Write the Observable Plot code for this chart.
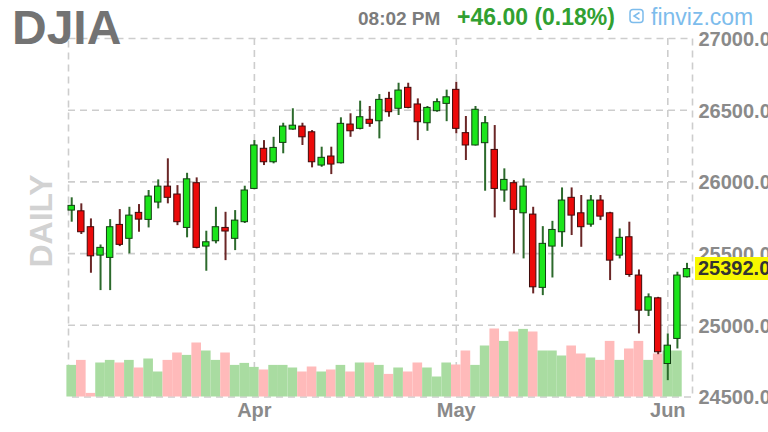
<!DOCTYPE html>
<html><head><meta charset="utf-8">
<script src="https://cdn.jsdelivr.net/npm/d3@7"></script>
<script src="https://cdn.jsdelivr.net/npm/@observablehq/plot@0.6"></script>
<style>
html,body{margin:0;padding:0;background:#fff;overflow:hidden}
#wrap{position:relative;width:768px;height:432px;font-family:"Liberation Sans",Arial,sans-serif}
#wrap > svg{position:absolute;left:0;top:0}
#last{position:absolute;left:695px;width:73px;height:23px;background:#f8f800;color:#333;font-weight:bold;font-size:20px;line-height:23px;padding-left:3px;box-sizing:border-box;white-space:nowrap;overflow:hidden}
</style></head><body><div id="wrap"></div>
<script>
// ---- data (DJIA daily) ----
const opens  = [25800,25795,25684,25486,25470,25700,25603,25784,25735,25856,25967,25912,25679,25991,25549,25586,25679,25603,25719,25951,26231,26137,26272,26365,26386,26346,26114,26177,26130,26400,26370,26433,26423,26579,26510,26656,26540,26409,26493,26544,26642,26340,26254,26270,26223,25940,25991,25781,25772,25261,25549,25649,25889,25781,25702,25870,25781,25486,25614,25347,25102,25188,24730,24905,25335];
const highs  = [25889,25847,25742,25560,25737,25807,25823,25842,25940,26014,26161,25974,26060,26028,25656,25823,25788,25800,25970,26288,26288,26311,26409,26510,26409,26358,26242,26242,26447,26475,26563,26526,26609,26625,26688,26688,26579,26526,26579,26640,26695,26456,26526,26456,26393,26091,26009,26021,25823,25688,25725,25958,25958,25905,25905,25905,25788,25672,25719,25386,25219,25195,24940,25370,25432];
const lows   = [25719,25633,25363,25242,25242,25549,25498,25649,25679,25812,25847,25695,25610,25533,25377,25568,25451,25521,25710,25945,26114,26126,26196,26360,26254,26098,26102,26051,26125,26311,26363,26381,26300,26451,26463,26510,26288,26353,26486,26420,26335,26149,26250,25935,25749,25858,25498,25463,25219,25207,25330,25544,25626,25544,25684,25730,25312,25463,25335,24940,25061,24795,24614,24835,25330];
const closes = [25833,25649,25481,25540,25684,25561,25765,25737,25898,25967,25889,25719,26018,25540,25579,25684,25654,25730,25940,26254,26137,26237,26386,26392,26311,26137,26168,26121,26405,26353,26451,26405,26572,26486,26637,26516,26416,26516,26556,26590,26370,26254,26503,26409,25951,26014,25805,25967,25265,25568,25665,25870,25765,25684,25870,25758,25451,25610,25351,25102,25195,24812,24858,25347,25392];
// volume (millions of shares); last bar has none
const volumes = [158,183,18,170,183,170,183,145,190,125,183,220,208,270,230,183,220,158,168,148,135,158,158,145,125,150,125,135,158,125,170,170,158,113,145,125,170,145,100,170,160,230,158,255,340,278,325,338,325,230,230,205,255,215,195,183,278,183,240,278,183,215,230,230,null];
const priceTicks = [24500,25000,25500,26000,26500,27000];
const monthIdx = [19,40,62];
const monthLabels = ["Apr","May","Jun"];
const lastPrice = "25392.0";
const headerSymbol = "DJIA", headerTime = "08:02 PM", headerChange = "+46.00 (0.18%)", brand = "finviz.com", period = "DAILY";

// ---- build ----
const data = closes.map((c,i)=>({i, open:opens[i], high:highs[i], low:lows[i], close:c, vol:volumes[i], up:c>=opens[i]}));
const font = '"Liberation Sans", Arial, sans-serif';
const xDomain = [-1/3, 64.57];
const common = {
  width:768, height:432, marginLeft:68, marginRight:76, marginTop:38, marginBottom:35.5,
  color:{type:"identity"},
  style:{background:"transparent", overflow:"visible", fontFamily:font, color:"#8a8a8a"}
};
const gridStyle = {stroke:"#cdcdcd", strokeWidth:1.6, strokeDasharray:"7,5"};
const wrap = document.getElementById("wrap");

const base = Plot.plot({...common,
  x:{type:"linear", domain:xDomain},
  y:{domain:[24500,27000]},
  marks:[
    Plot.frame(gridStyle),
    Plot.ruleY(priceTicks.slice(1,-1), gridStyle),
    Plot.ruleX(monthIdx, gridStyle),
    Plot.axisY({anchor:"right", ticks:priceTicks, tickSize:0, tickPadding:6, tickFormat:d=>d.toFixed(1), fontSize:20, fontWeight:"bold", fill:"#8a8a8a", dy:1}),
    Plot.axisX({ticks:monthIdx, tickSize:0, tickPadding:6, tickFormat:d=>monthLabels[monthIdx.indexOf(d)], fontSize:20, fontWeight:"bold", fill:"#8a8a8a"})
  ]});
wrap.appendChild(base);

const vol = Plot.plot({...common,
  x:{type:"linear", domain:xDomain, axis:null},
  y:{domain:[0,1792.5], axis:null},
  marks:[
    Plot.rect(data.filter(d=>d.vol!=null), {x1:d=>d.i-0.5, x2:d=>d.i+0.5, y1:0, y2:"vol", fill:d=>d.up?"#a9dca1":"#ffbaba"})
  ]});
wrap.appendChild(vol);

const candles = Plot.plot({...common,
  x:{type:"linear", domain:xDomain, axis:null},
  y:{domain:[24500,27000], axis:null},
  marks:[
    Plot.ruleX(data, {x:"i", y1:"low", y2:"high", stroke:d=>d.up?"#2c6a2c":"#6a2626", strokeWidth:2}),
    Plot.rect(data, {x1:d=>d.i-0.5, x2:d=>d.i+0.5, y1:"open", y2:"close", insetLeft:1.6, insetRight:1.6,
      fill:d=>d.up?"#1be51b":"#ec0a0a", stroke:d=>d.up?"#123d12":"#3f0a0a", strokeWidth:1})
  ]});
wrap.appendChild(candles);

// header overlay
const ns = "http://www.w3.org/2000/svg";
const hdr = document.createElementNS(ns, "svg");
hdr.setAttribute("width", 768); hdr.setAttribute("height", 432);
hdr.style.fontFamily = font;
hdr.innerHTML = `
  <text x="12" y="44" font-size="48" font-weight="bold" fill="#737373">${headerSymbol}</text>
  <text x="358" y="25" font-size="19" font-weight="bold" fill="#7c7c7c">${headerTime}</text>
  <text x="457" y="25" font-size="23" font-weight="bold" fill="#31a031">${headerChange}</text>
  <rect x="630" y="9.5" width="13" height="13" rx="3" fill="none" stroke="#7dbcec" stroke-width="1.5"/>
  <path d="M639.5 12.5 L634 16 L639.5 19.5" fill="none" stroke="#7dbcec" stroke-width="1.5"/>
  <text x="651" y="25" font-size="23" fill="#7dbcec">${brand}</text>
  <text transform="translate(52,221) rotate(-90)" text-anchor="middle" font-size="32" font-weight="bold" fill="#d2d2d2">${period}</text>`;
wrap.appendChild(hdr);

// last price tag, placed with the price scale
const yScale = candles.scale("y");
const tag = document.createElement("div");
tag.id = "last";
tag.textContent = lastPrice;
tag.style.top = (yScale.apply(closes[closes.length-1]) - 11.5) + "px";
wrap.appendChild(tag);
</script>
</body></html>
